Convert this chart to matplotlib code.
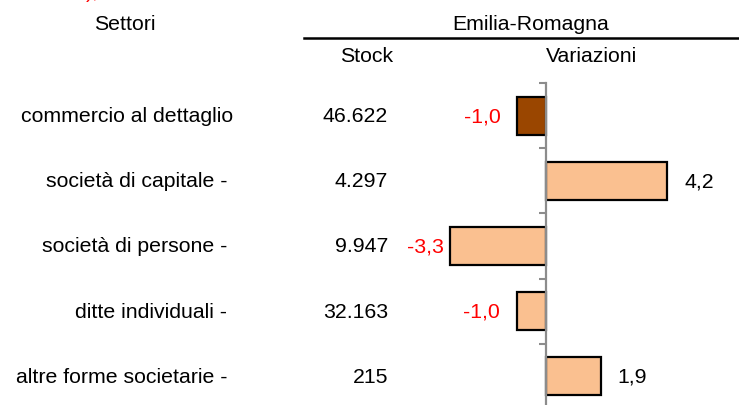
import numpy as np
import matplotlib.pyplot as plt
import matplotlib.transforms as mtransforms
from matplotlib.lines import Line2D

plt.rcParams['font.family'] = ['Liberation Sans', 'DejaVu Sans']

settori = ["commercio al dettaglio", "società di capitale -", "società di persone -",
           "ditte individuali -", "altre forme societarie -"]
stock = ["46.622", "4.297", "9.947", "32.163", "215"]
variazioni = [-1.0, 4.2, -3.3, -1.0, 1.9]
bar_colors = ["#9A4600", "#FAC090", "#FAC090", "#FAC090", "#FAC090"]
label_gap = [16, 17, 6, 17, 17]  # pixels between bar end and label

W, H = 739, 406
fig = plt.figure(figsize=(W / 100, H / 100), dpi=100)

# axes spans the full width; zero sits at x=545.5 px, ~29 px per unit
x0, ppu = 545.5, 29.0
top_px, bot_px = 84, 410
ax = fig.add_axes([0, 1 - bot_px / H, 1, (bot_px - top_px) / H])
ax.set_xlim(-x0 / ppu, (W - x0) / ppu)
ax.set_ylim(len(settori) - 0.5, -0.5)

y = np.arange(len(settori))
ax.barh(y, variazioni, height=0.58, color=bar_colors, edgecolor="black", linewidth=1.6, zorder=2)

for s in ["top", "right", "bottom"]:
    ax.spines[s].set_visible(False)
ax.spines["left"].set_position(("data", 0))
ax.spines["left"].set_color("#8c8c8c")
ax.spines["left"].set_linewidth(1.6)
ax.spines["left"].set_zorder(3)
ax.set_xticks([])
ax.set_yticks(np.arange(-0.5, len(settori), 1.0))
ax.set_yticklabels([])
ax.tick_params(axis="y", direction="out", length=5, width=1.5, color="#8c8c8c")

fs = 15.3
for i, v in enumerate(variazioni):
    txt = f"{v:.1f}".replace(".", ",")
    gap = label_gap[i] * 0.72
    if v < 0:
        ax.annotate(txt, (v, i), xytext=(-gap, 0), textcoords="offset points",
                    ha="right", va="center", color="red", fontsize=fs)
    else:
        ax.annotate(txt, (v, i), xytext=(gap, 0), textcoords="offset points",
                    ha="left", va="center", color="black", fontsize=fs)

trans = mtransforms.blended_transform_factory(fig.transFigure, ax.transData)
for i, (name, st) in enumerate(zip(settori, stock)):
    xr = 233 if not name.endswith("-") else 227
    ax.text(xr / W, i, name, transform=trans, ha="right", va="center", fontsize=fs)
    ax.text(388 / W, i, st, transform=trans, ha="right", va="center", fontsize=fs)

# headers
fig.text(125 / W, 1 - 25 / H, "Settori", ha="center", va="center", fontsize=fs)
fig.text(531 / W, 1 - 24 / H, "Emilia-Romagna", ha="center", va="center", fontsize=fs)
fig.text(367 / W, 1 - 57 / H, "Stock", ha="center", va="center", fontsize=fs)
fig.text(592 / W, 1 - 57 / H, "Variazioni", ha="center", va="center", fontsize=fs)
fig.add_artist(Line2D([304 / W, 1], [1 - 39 / H, 1 - 39 / H], color="black", linewidth=1.8))

# clipped red fragment at the very top (mostly outside the canvas, as in the source)
fig.text(86 / W, 1 - 2 / H, "),", ha="left", va="bottom", color="red", fontsize=fs)

fig.savefig("out.png", dpi=100)
